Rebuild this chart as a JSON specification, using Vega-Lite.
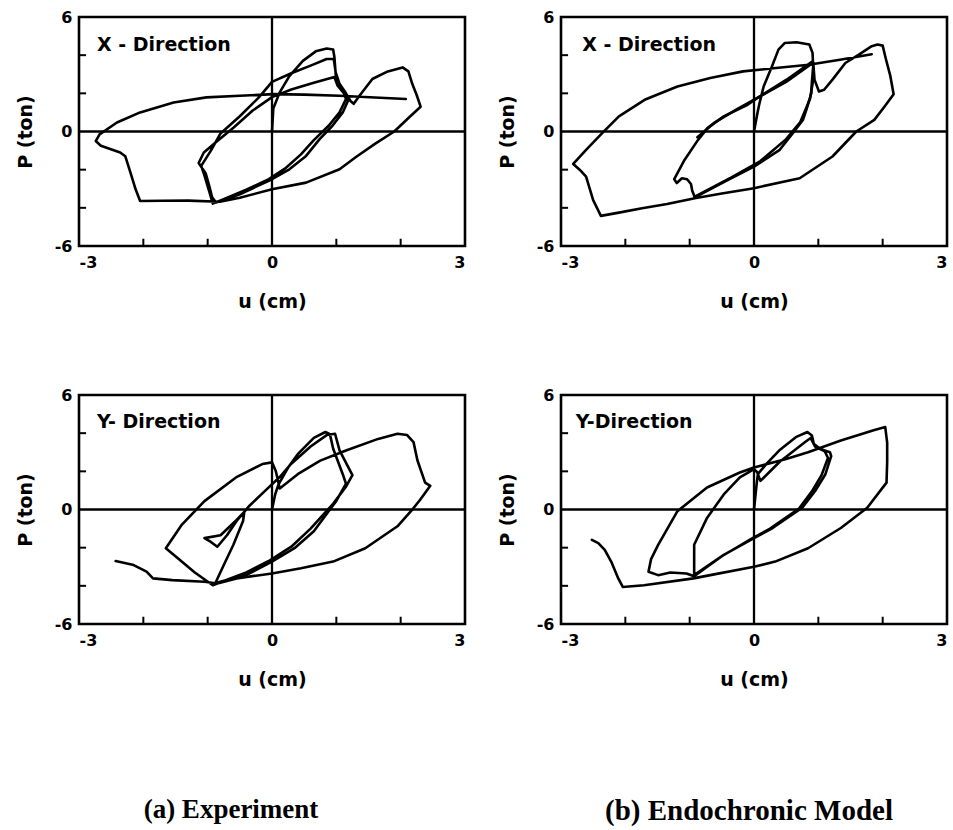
{
"$schema": "https://vega.github.io/schema/vega-lite/v6.json",
"background": "white",
"padding": {"left": 14, "top": 7, "right": 0, "bottom": 0},
"datasets": {"pts": [
{"p":"TL","s":1,"i":1,"u":0,"P":0},
{"p":"TL","s":1,"i":2,"u":0.02,"P":1.2},
{"p":"TL","s":1,"i":3,"u":0.12,"P":2.05},
{"p":"TL","s":1,"i":4,"u":0.27,"P":2.9},
{"p":"TL","s":1,"i":5,"u":0.48,"P":3.7},
{"p":"TL","s":1,"i":6,"u":0.68,"P":4.2},
{"p":"TL","s":1,"i":7,"u":0.85,"P":4.35},
{"p":"TL","s":1,"i":8,"u":0.95,"P":4.3},
{"p":"TL","s":1,"i":9,"u":0.97,"P":3.9},
{"p":"TL","s":1,"i":10,"u":0.99,"P":3.0},
{"p":"TL","s":1,"i":11,"u":1.05,"P":2.35},
{"p":"TL","s":1,"i":12,"u":1.15,"P":1.9},
{"p":"TL","s":1,"i":13,"u":1.18,"P":1.6},
{"p":"TL","s":1,"i":14,"u":1.1,"P":1.0},
{"p":"TL","s":1,"i":15,"u":0.94,"P":0.3},
{"p":"TL","s":1,"i":16,"u":0.74,"P":-0.4},
{"p":"TL","s":1,"i":17,"u":0.53,"P":-1.28},
{"p":"TL","s":1,"i":18,"u":0.27,"P":-1.98},
{"p":"TL","s":1,"i":19,"u":0,"P":-2.5},
{"p":"TL","s":1,"i":20,"u":-0.5,"P":-3.29},
{"p":"TL","s":1,"i":21,"u":-0.87,"P":-3.72},
{"p":"TL","s":1,"i":22,"u":-0.93,"P":-3.45},
{"p":"TL","s":1,"i":23,"u":-0.98,"P":-2.8},
{"p":"TL","s":1,"i":24,"u":-1.03,"P":-2.2},
{"p":"TL","s":1,"i":25,"u":-1.14,"P":-1.65},
{"p":"TL","s":1,"i":26,"u":-1.06,"P":-1.1},
{"p":"TL","s":1,"i":27,"u":-0.85,"P":-0.5},
{"p":"TL","s":1,"i":28,"u":-0.6,"P":0.2},
{"p":"TL","s":1,"i":29,"u":-0.3,"P":1.1},
{"p":"TL","s":1,"i":30,"u":0,"P":1.8},
{"p":"TL","s":1,"i":31,"u":0.3,"P":2.2},
{"p":"TL","s":1,"i":32,"u":0.65,"P":2.55},
{"p":"TL","s":1,"i":33,"u":0.97,"P":2.85},
{"p":"TL","s":1,"i":34,"u":1.02,"P":2.4},
{"p":"TL","s":1,"i":35,"u":1.12,"P":2.0},
{"p":"TL","s":1,"i":36,"u":1.15,"P":1.7},
{"p":"TL","s":1,"i":37,"u":1.05,"P":1.0},
{"p":"TL","s":1,"i":38,"u":0.88,"P":0.3},
{"p":"TL","s":1,"i":39,"u":0.65,"P":-0.45},
{"p":"TL","s":1,"i":40,"u":0.45,"P":-1.2},
{"p":"TL","s":1,"i":41,"u":0.2,"P":-1.95},
{"p":"TL","s":1,"i":42,"u":-0.05,"P":-2.5},
{"p":"TL","s":1,"i":43,"u":-0.4,"P":-3.05},
{"p":"TL","s":1,"i":44,"u":-0.65,"P":-3.4},
{"p":"TL","s":1,"i":45,"u":-0.92,"P":-3.78},
{"p":"TL","s":1,"i":46,"u":-0.97,"P":-3.2},
{"p":"TL","s":1,"i":47,"u":-1.06,"P":-2.2},
{"p":"TL","s":1,"i":48,"u":-1.1,"P":-1.8},
{"p":"TL","s":1,"i":49,"u":-0.95,"P":-1.0},
{"p":"TL","s":1,"i":50,"u":-0.8,"P":-0.1},
{"p":"TL","s":1,"i":51,"u":-0.5,"P":0.8},
{"p":"TL","s":1,"i":52,"u":-0.2,"P":1.8},
{"p":"TL","s":1,"i":53,"u":0,"P":2.6},
{"p":"TL","s":1,"i":54,"u":0.3,"P":3.05},
{"p":"TL","s":1,"i":55,"u":0.6,"P":3.45},
{"p":"TL","s":1,"i":56,"u":0.85,"P":3.8},
{"p":"TL","s":1,"i":57,"u":0.96,"P":3.8},
{"p":"TL","s":1,"i":58,"u":0.99,"P":3.1},
{"p":"TL","s":1,"i":59,"u":1.05,"P":2.5},
{"p":"TL","s":1,"i":60,"u":1.15,"P":2.0},
{"p":"TL","s":1,"i":61,"u":1.22,"P":1.6},
{"p":"TL","s":1,"i":62,"u":1.27,"P":1.45},
{"p":"TL","s":1,"i":63,"u":1.36,"P":1.87},
{"p":"TL","s":1,"i":64,"u":1.56,"P":2.75},
{"p":"TL","s":1,"i":65,"u":1.8,"P":3.15},
{"p":"TL","s":1,"i":66,"u":2.03,"P":3.36},
{"p":"TL","s":1,"i":67,"u":2.12,"P":3.15},
{"p":"TL","s":1,"i":68,"u":2.18,"P":2.5},
{"p":"TL","s":1,"i":69,"u":2.25,"P":1.9},
{"p":"TL","s":1,"i":70,"u":2.31,"P":1.3},
{"p":"TL","s":1,"i":71,"u":2.15,"P":0.8},
{"p":"TL","s":1,"i":72,"u":1.9,"P":0},
{"p":"TL","s":1,"i":73,"u":1.6,"P":-0.65},
{"p":"TL","s":1,"i":74,"u":1.3,"P":-1.35},
{"p":"TL","s":1,"i":75,"u":1.05,"P":-1.98},
{"p":"TL","s":1,"i":76,"u":0.53,"P":-2.68},
{"p":"TL","s":1,"i":77,"u":0,"P":-3.03},
{"p":"TL","s":1,"i":78,"u":-0.5,"P":-3.47},
{"p":"TL","s":1,"i":79,"u":-0.81,"P":-3.68},
{"p":"TL","s":1,"i":80,"u":-1.3,"P":-3.62},
{"p":"TL","s":1,"i":81,"u":-1.7,"P":-3.63},
{"p":"TL","s":1,"i":82,"u":-2.05,"P":-3.64},
{"p":"TL","s":1,"i":83,"u":-2.12,"P":-3.03},
{"p":"TL","s":1,"i":84,"u":-2.2,"P":-2.15},
{"p":"TL","s":1,"i":85,"u":-2.28,"P":-1.3},
{"p":"TL","s":1,"i":86,"u":-2.36,"P":-1.1},
{"p":"TL","s":1,"i":87,"u":-2.66,"P":-0.75},
{"p":"TL","s":1,"i":88,"u":-2.74,"P":-0.5},
{"p":"TL","s":1,"i":89,"u":-2.68,"P":-0.15},
{"p":"TL","s":1,"i":90,"u":-2.41,"P":0.47},
{"p":"TL","s":1,"i":91,"u":-2.05,"P":1.0},
{"p":"TL","s":1,"i":92,"u":-1.53,"P":1.52},
{"p":"TL","s":1,"i":93,"u":-1.02,"P":1.79},
{"p":"TL","s":1,"i":94,"u":-0.5,"P":1.87},
{"p":"TL","s":1,"i":95,"u":0.02,"P":1.96},
{"p":"TL","s":1,"i":96,"u":0.5,"P":1.93},
{"p":"TL","s":1,"i":97,"u":1.05,"P":1.87},
{"p":"TL","s":1,"i":98,"u":1.6,"P":1.78},
{"p":"TL","s":1,"i":99,"u":2.08,"P":1.7},

{"p":"TR","s":1,"i":1,"u":0,"P":0},
{"p":"TR","s":1,"i":2,"u":0.05,"P":0.9},
{"p":"TR","s":1,"i":3,"u":0.08,"P":1.4},
{"p":"TR","s":1,"i":4,"u":0.15,"P":2.36},
{"p":"TR","s":1,"i":5,"u":0.28,"P":3.42},
{"p":"TR","s":1,"i":6,"u":0.38,"P":4.29},
{"p":"TR","s":1,"i":7,"u":0.48,"P":4.64},
{"p":"TR","s":1,"i":8,"u":0.66,"P":4.68},
{"p":"TR","s":1,"i":9,"u":0.86,"P":4.56},
{"p":"TR","s":1,"i":10,"u":0.91,"P":4.12},
{"p":"TR","s":1,"i":11,"u":0.92,"P":3.42},
{"p":"TR","s":1,"i":12,"u":0.9,"P":2.6},
{"p":"TR","s":1,"i":13,"u":0.89,"P":2.0},
{"p":"TR","s":1,"i":14,"u":0.82,"P":1.2},
{"p":"TR","s":1,"i":15,"u":0.76,"P":0.6},
{"p":"TR","s":1,"i":16,"u":0.6,"P":-0.1},
{"p":"TR","s":1,"i":17,"u":0.4,"P":-0.96},
{"p":"TR","s":1,"i":18,"u":0,"P":-1.84},
{"p":"TR","s":1,"i":19,"u":-0.41,"P":-2.54},
{"p":"TR","s":1,"i":20,"u":-0.92,"P":-3.45},
{"p":"TR","s":1,"i":21,"u":-0.96,"P":-3.1},
{"p":"TR","s":1,"i":22,"u":-0.98,"P":-2.75},
{"p":"TR","s":1,"i":23,"u":-1.04,"P":-2.5},
{"p":"TR","s":1,"i":24,"u":-1.12,"P":-2.45},
{"p":"TR","s":1,"i":25,"u":-1.2,"P":-2.7},
{"p":"TR","s":1,"i":26,"u":-1.24,"P":-2.5},
{"p":"TR","s":1,"i":27,"u":-1.08,"P":-1.49},
{"p":"TR","s":1,"i":28,"u":-0.87,"P":-0.44},
{"p":"TR","s":1,"i":29,"u":-0.72,"P":0.19},
{"p":"TR","s":1,"i":30,"u":-0.47,"P":0.79},
{"p":"TR","s":1,"i":31,"u":-0.1,"P":1.4},
{"p":"TR","s":1,"i":32,"u":0.05,"P":1.75},
{"p":"TR","s":1,"i":33,"u":0.5,"P":2.7},
{"p":"TR","s":1,"i":34,"u":0.91,"P":3.68},
{"p":"TR","s":1,"i":35,"u":0.93,"P":3.2},
{"p":"TR","s":1,"i":36,"u":0.94,"P":2.72},
{"p":"TR","s":1,"i":37,"u":1.01,"P":2.1},
{"p":"TR","s":1,"i":38,"u":1.09,"P":2.19},
{"p":"TR","s":1,"i":39,"u":1.22,"P":2.72},
{"p":"TR","s":1,"i":40,"u":1.42,"P":3.59},
{"p":"TR","s":1,"i":41,"u":1.63,"P":4.03},
{"p":"TR","s":1,"i":42,"u":1.83,"P":4.47},
{"p":"TR","s":1,"i":43,"u":1.92,"P":4.56},
{"p":"TR","s":1,"i":44,"u":2.0,"P":4.5},
{"p":"TR","s":1,"i":45,"u":2.05,"P":3.8},
{"p":"TR","s":1,"i":46,"u":2.12,"P":2.9},
{"p":"TR","s":1,"i":47,"u":2.17,"P":1.95},
{"p":"TR","s":1,"i":48,"u":2.03,"P":1.31},
{"p":"TR","s":1,"i":49,"u":1.87,"P":0.61},
{"p":"TR","s":1,"i":50,"u":1.59,"P":0},
{"p":"TR","s":1,"i":51,"u":1.22,"P":-1.31},
{"p":"TR","s":1,"i":52,"u":0.71,"P":-2.45},
{"p":"TR","s":1,"i":53,"u":0,"P":-2.97},
{"p":"TR","s":1,"i":54,"u":-0.5,"P":-3.25},
{"p":"TR","s":1,"i":55,"u":-0.92,"P":-3.5},
{"p":"TR","s":1,"i":56,"u":-1.35,"P":-3.8},
{"p":"TR","s":1,"i":57,"u":-1.74,"P":-4.02},
{"p":"TR","s":1,"i":58,"u":-2.1,"P":-4.25},
{"p":"TR","s":1,"i":59,"u":-2.38,"P":-4.42},
{"p":"TR","s":1,"i":60,"u":-2.5,"P":-3.6},
{"p":"TR","s":1,"i":61,"u":-2.61,"P":-2.36},
{"p":"TR","s":1,"i":62,"u":-2.71,"P":-2.0},
{"p":"TR","s":1,"i":63,"u":-2.81,"P":-1.7},
{"p":"TR","s":1,"i":64,"u":-2.61,"P":-0.96},
{"p":"TR","s":1,"i":65,"u":-2.36,"P":-0.09},
{"p":"TR","s":1,"i":66,"u":-2.1,"P":0.79},
{"p":"TR","s":1,"i":67,"u":-1.7,"P":1.66},
{"p":"TR","s":1,"i":68,"u":-1.19,"P":2.36},
{"p":"TR","s":1,"i":69,"u":-0.68,"P":2.8},
{"p":"TR","s":1,"i":70,"u":-0.17,"P":3.15},
{"p":"TR","s":1,"i":71,"u":0.34,"P":3.33},
{"p":"TR","s":1,"i":72,"u":0.85,"P":3.5},
{"p":"TR","s":1,"i":73,"u":1.36,"P":3.77},
{"p":"TR","s":1,"i":74,"u":1.83,"P":4.05},
{"p":"TR","s":2,"i":1,"u":-0.88,"P":-0.3},
{"p":"TR","s":2,"i":2,"u":-0.62,"P":0.45},
{"p":"TR","s":2,"i":3,"u":-0.25,"P":1.2},
{"p":"TR","s":2,"i":4,"u":0.1,"P":1.85},
{"p":"TR","s":2,"i":5,"u":0.5,"P":2.6},
{"p":"TR","s":2,"i":6,"u":0.92,"P":3.6},
{"p":"TR","s":2,"i":7,"u":0.93,"P":2.9},
{"p":"TR","s":2,"i":8,"u":0.87,"P":1.7},
{"p":"TR","s":2,"i":9,"u":0.72,"P":0.5},
{"p":"TR","s":2,"i":10,"u":0.5,"P":-0.4},
{"p":"TR","s":2,"i":11,"u":0.1,"P":-1.55},
{"p":"TR","s":2,"i":12,"u":-0.35,"P":-2.4},
{"p":"TR","s":2,"i":13,"u":-0.92,"P":-3.42},

{"p":"BL","s":1,"i":1,"u":0,"P":0},
{"p":"BL","s":1,"i":2,"u":0.05,"P":0.8},
{"p":"BL","s":1,"i":3,"u":0.1,"P":1.3},
{"p":"BL","s":1,"i":4,"u":0.25,"P":2.2},
{"p":"BL","s":1,"i":5,"u":0.4,"P":2.9},
{"p":"BL","s":1,"i":6,"u":0.65,"P":3.75},
{"p":"BL","s":1,"i":7,"u":0.83,"P":4.06},
{"p":"BL","s":1,"i":8,"u":0.9,"P":3.95},
{"p":"BL","s":1,"i":9,"u":0.95,"P":3.2},
{"p":"BL","s":1,"i":10,"u":1.1,"P":1.85},
{"p":"BL","s":1,"i":11,"u":1.15,"P":1.35},
{"p":"BL","s":1,"i":12,"u":1.0,"P":0.45},
{"p":"BL","s":1,"i":13,"u":0.65,"P":-1.14},
{"p":"BL","s":1,"i":14,"u":0.35,"P":-2.03},
{"p":"BL","s":1,"i":15,"u":0,"P":-2.73},
{"p":"BL","s":1,"i":16,"u":-0.35,"P":-3.35},
{"p":"BL","s":1,"i":17,"u":-0.7,"P":-3.7},
{"p":"BL","s":1,"i":18,"u":-0.88,"P":-3.85},
{"p":"BL","s":1,"i":19,"u":-0.72,"P":-2.7},
{"p":"BL","s":1,"i":20,"u":-0.6,"P":-1.85},
{"p":"BL","s":1,"i":21,"u":-0.45,"P":-0.6},
{"p":"BL","s":1,"i":22,"u":-0.43,"P":-0.12},
{"p":"BL","s":1,"i":23,"u":-0.55,"P":-0.55},
{"p":"BL","s":1,"i":24,"u":-0.8,"P":-1.35},
{"p":"BL","s":1,"i":25,"u":-1.05,"P":-1.5},
{"p":"BL","s":1,"i":26,"u":-0.95,"P":-1.7},
{"p":"BL","s":1,"i":27,"u":-0.85,"P":-1.95},
{"p":"BL","s":1,"i":28,"u":-0.7,"P":-1.35},
{"p":"BL","s":1,"i":29,"u":-0.55,"P":-0.6},
{"p":"BL","s":1,"i":30,"u":-0.35,"P":0.2},
{"p":"BL","s":1,"i":31,"u":-0.1,"P":1.0},
{"p":"BL","s":1,"i":32,"u":0.12,"P":1.7},
{"p":"BL","s":1,"i":33,"u":0.3,"P":2.4},
{"p":"BL","s":1,"i":34,"u":0.6,"P":3.3},
{"p":"BL","s":1,"i":35,"u":0.85,"P":3.9},
{"p":"BL","s":1,"i":36,"u":0.98,"P":3.97},
{"p":"BL","s":1,"i":37,"u":1.05,"P":3.1},
{"p":"BL","s":1,"i":38,"u":1.25,"P":1.8},
{"p":"BL","s":1,"i":39,"u":1.15,"P":1.2},
{"p":"BL","s":1,"i":40,"u":0.95,"P":0.3},
{"p":"BL","s":1,"i":41,"u":0.6,"P":-1.0},
{"p":"BL","s":1,"i":42,"u":0.3,"P":-1.95},
{"p":"BL","s":1,"i":43,"u":-0.05,"P":-2.7},
{"p":"BL","s":1,"i":44,"u":-0.4,"P":-3.3},
{"p":"BL","s":1,"i":45,"u":-0.75,"P":-3.75},
{"p":"BL","s":1,"i":46,"u":-0.92,"P":-3.97},
{"p":"BL","s":1,"i":47,"u":-1.2,"P":-3.3},
{"p":"BL","s":1,"i":48,"u":-1.45,"P":-2.6},
{"p":"BL","s":1,"i":49,"u":-1.65,"P":-2.03},
{"p":"BL","s":1,"i":50,"u":-1.4,"P":-0.79},
{"p":"BL","s":1,"i":51,"u":-1.05,"P":0.44},
{"p":"BL","s":1,"i":52,"u":-0.56,"P":1.68},
{"p":"BL","s":1,"i":53,"u":-0.15,"P":2.38},
{"p":"BL","s":1,"i":54,"u":0,"P":2.47},
{"p":"BL","s":1,"i":55,"u":0.06,"P":2.0},
{"p":"BL","s":1,"i":56,"u":0.12,"P":1.1},
{"p":"BL","s":1,"i":57,"u":0.4,"P":1.85},
{"p":"BL","s":1,"i":58,"u":0.75,"P":2.56},
{"p":"BL","s":1,"i":59,"u":1.15,"P":3.09},
{"p":"BL","s":1,"i":60,"u":1.65,"P":3.7},
{"p":"BL","s":1,"i":61,"u":1.95,"P":3.97},
{"p":"BL","s":1,"i":62,"u":2.1,"P":3.9},
{"p":"BL","s":1,"i":63,"u":2.2,"P":3.53},
{"p":"BL","s":1,"i":64,"u":2.26,"P":2.58},
{"p":"BL","s":1,"i":65,"u":2.38,"P":1.41},
{"p":"BL","s":1,"i":66,"u":2.46,"P":1.24},
{"p":"BL","s":1,"i":67,"u":2.3,"P":0.5},
{"p":"BL","s":1,"i":68,"u":2.16,"P":-0.09},
{"p":"BL","s":1,"i":69,"u":1.95,"P":-0.88},
{"p":"BL","s":1,"i":70,"u":1.45,"P":-2.03},
{"p":"BL","s":1,"i":71,"u":0.95,"P":-2.73},
{"p":"BL","s":1,"i":72,"u":0.45,"P":-3.08},
{"p":"BL","s":1,"i":73,"u":0,"P":-3.35},
{"p":"BL","s":1,"i":74,"u":-0.55,"P":-3.61},
{"p":"BL","s":1,"i":75,"u":-0.85,"P":-3.88},
{"p":"BL","s":1,"i":76,"u":-1.05,"P":-3.79},
{"p":"BL","s":1,"i":77,"u":-1.55,"P":-3.7},
{"p":"BL","s":1,"i":78,"u":-1.85,"P":-3.61},
{"p":"BL","s":1,"i":79,"u":-1.95,"P":-3.26},
{"p":"BL","s":1,"i":80,"u":-2.15,"P":-2.91},
{"p":"BL","s":1,"i":81,"u":-2.43,"P":-2.7},

{"p":"BR","s":1,"i":1,"u":0,"P":0},
{"p":"BR","s":1,"i":2,"u":0.04,"P":1.3},
{"p":"BR","s":1,"i":3,"u":0.06,"P":1.85},
{"p":"BR","s":1,"i":4,"u":0.19,"P":2.38},
{"p":"BR","s":1,"i":5,"u":0.39,"P":3.09},
{"p":"BR","s":1,"i":6,"u":0.65,"P":3.79},
{"p":"BR","s":1,"i":7,"u":0.83,"P":4.06},
{"p":"BR","s":1,"i":8,"u":0.9,"P":3.88},
{"p":"BR","s":1,"i":9,"u":0.93,"P":3.44},
{"p":"BR","s":1,"i":10,"u":1.03,"P":3.17},
{"p":"BR","s":1,"i":11,"u":1.18,"P":3.0},
{"p":"BR","s":1,"i":12,"u":1.2,"P":2.8},
{"p":"BR","s":1,"i":13,"u":1.11,"P":1.85},
{"p":"BR","s":1,"i":14,"u":0.95,"P":0.97},
{"p":"BR","s":1,"i":15,"u":0.75,"P":0.09},
{"p":"BR","s":1,"i":16,"u":0.29,"P":-0.97},
{"p":"BR","s":1,"i":17,"u":0,"P":-1.5},
{"p":"BR","s":1,"i":18,"u":-0.47,"P":-2.38},
{"p":"BR","s":1,"i":19,"u":-0.93,"P":-3.44},
{"p":"BR","s":1,"i":20,"u":-0.93,"P":-1.85},
{"p":"BR","s":1,"i":21,"u":-0.73,"P":-0.44},
{"p":"BR","s":1,"i":22,"u":-0.47,"P":0.79},
{"p":"BR","s":1,"i":23,"u":-0.22,"P":1.68},
{"p":"BR","s":1,"i":24,"u":0,"P":2.12},
{"p":"BR","s":1,"i":25,"u":0.05,"P":1.95},
{"p":"BR","s":1,"i":26,"u":0.1,"P":1.5},
{"p":"BR","s":1,"i":27,"u":0.4,"P":2.5},
{"p":"BR","s":1,"i":28,"u":0.8,"P":3.55},
{"p":"BR","s":1,"i":29,"u":0.88,"P":3.75},
{"p":"BR","s":1,"i":30,"u":0.95,"P":3.3},
{"p":"BR","s":1,"i":31,"u":1.1,"P":3.05},
{"p":"BR","s":1,"i":32,"u":1.15,"P":2.7},
{"p":"BR","s":1,"i":33,"u":1.05,"P":1.8},
{"p":"BR","s":1,"i":34,"u":0.9,"P":0.95},
{"p":"BR","s":1,"i":35,"u":0.7,"P":0.05},
{"p":"BR","s":1,"i":36,"u":0.25,"P":-1.0},
{"p":"BR","s":1,"i":37,"u":-0.05,"P":-1.55},
{"p":"BR","s":1,"i":38,"u":-0.5,"P":-2.45},
{"p":"BR","s":1,"i":39,"u":-0.93,"P":-3.5},
{"p":"BR","s":1,"i":40,"u":-1.05,"P":-3.35},
{"p":"BR","s":1,"i":41,"u":-1.3,"P":-3.3},
{"p":"BR","s":1,"i":42,"u":-1.49,"P":-3.44},
{"p":"BR","s":1,"i":43,"u":-1.64,"P":-3.26},
{"p":"BR","s":1,"i":44,"u":-1.6,"P":-2.6},
{"p":"BR","s":1,"i":45,"u":-1.49,"P":-1.85},
{"p":"BR","s":1,"i":46,"u":-1.19,"P":-0.09},
{"p":"BR","s":1,"i":47,"u":-0.73,"P":1.15},
{"p":"BR","s":1,"i":48,"u":-0.22,"P":1.94},
{"p":"BR","s":1,"i":49,"u":0,"P":2.2},
{"p":"BR","s":1,"i":50,"u":0.5,"P":2.65},
{"p":"BR","s":1,"i":51,"u":0.84,"P":3.0},
{"p":"BR","s":1,"i":52,"u":1.35,"P":3.62},
{"p":"BR","s":1,"i":53,"u":1.86,"P":4.15},
{"p":"BR","s":1,"i":54,"u":2.04,"P":4.32},
{"p":"BR","s":1,"i":55,"u":2.07,"P":3.5},
{"p":"BR","s":1,"i":56,"u":2.07,"P":2.5},
{"p":"BR","s":1,"i":57,"u":2.06,"P":1.41},
{"p":"BR","s":1,"i":58,"u":1.76,"P":0.09},
{"p":"BR","s":1,"i":59,"u":1.35,"P":-0.97},
{"p":"BR","s":1,"i":60,"u":0.84,"P":-2.03},
{"p":"BR","s":1,"i":61,"u":0.33,"P":-2.73},
{"p":"BR","s":1,"i":62,"u":0,"P":-3.0},
{"p":"BR","s":1,"i":63,"u":-0.68,"P":-3.44},
{"p":"BR","s":1,"i":64,"u":-0.94,"P":-3.61},
{"p":"BR","s":1,"i":65,"u":-1.71,"P":-3.97},
{"p":"BR","s":1,"i":66,"u":-2.04,"P":-4.06},
{"p":"BR","s":1,"i":67,"u":-2.11,"P":-3.61},
{"p":"BR","s":1,"i":68,"u":-2.22,"P":-2.73},
{"p":"BR","s":1,"i":69,"u":-2.32,"P":-2.12},
{"p":"BR","s":1,"i":70,"u":-2.42,"P":-1.76},
{"p":"BR","s":1,"i":71,"u":-2.52,"P":-1.59}
],
"xticks": [{"u": -2}, {"u": -1}, {"u": 1}, {"u": 2}],
"yticks": [{"P": -4}, {"P": -2}, {"P": 2}, {"P": 4}]
},
"data": {"name": "pts"},
"columns": 2,
"spacing": {"row": 149, "column": 96},
"bounds": "flush",
"concat": [
{
 "width": 386, "height": 229,
 "layer": [
  {"data": {"values": [{}]}, "mark": {"type": "rule", "color": "black", "strokeWidth": 2.3}, "encoding": {"x": {"datum": 0, "type": "quantitative"}}},
  {"data": {"values": [{}]}, "mark": {"type": "rule", "color": "black", "strokeWidth": 2.3}, "encoding": {"y": {"datum": 0, "type": "quantitative"}}},
  {"data": {"name": "xticks"}, "mark": {"type": "rule", "color": "black", "strokeWidth": 2}, "encoding": {"x": {"field": "u", "type": "quantitative"}, "y": {"datum": -6, "type": "quantitative"}, "y2": {"datum": -5.62}}},
  {"data": {"name": "yticks"}, "mark": {"type": "rule", "color": "black", "strokeWidth": 2}, "encoding": {"y": {"field": "P", "type": "quantitative"}, "x": {"datum": -3, "type": "quantitative"}, "x2": {"datum": -2.89}}},
  {"transform": [{"filter": "datum.p == 'TL'"}],
   "mark": {"type": "line", "color": "black", "strokeWidth": 2.6, "strokeJoin": "round", "strokeCap": "round"},
   "encoding": {
    "x": {"field": "u", "type": "quantitative", "scale": {"domain": [-3, 3], "nice": false, "zero": false}, "axis": {"title": "u (cm)", "values": [-3, 0, 3], "labelExpr": "'' + datum.value"}},
    "y": {"field": "P", "type": "quantitative", "scale": {"domain": [-6, 6], "nice": false, "zero": false}, "axis": {"title": "P (ton)", "values": [-6, 0, 6], "labelExpr": "'' + datum.value"}},
    "detail": {"field": "s"},
    "order": {"field": "i", "type": "quantitative"}
   }},
  {"data": {"values": [{}]}, "mark": {"type": "text", "align": "left", "baseline": "middle", "font": "DejaVu Sans", "fontSize": 19, "fontWeight": "bold", "color": "black"},
   "encoding": {"x": {"datum": -2.72, "type": "quantitative"}, "y": {"datum": 4.55, "type": "quantitative"}, "text": {"value": "X - Direction"}}}
 ]
},
{
 "width": 386, "height": 229,
 "layer": [
  {"data": {"values": [{}]}, "mark": {"type": "rule", "color": "black", "strokeWidth": 2.3}, "encoding": {"x": {"datum": 0, "type": "quantitative"}}},
  {"data": {"values": [{}]}, "mark": {"type": "rule", "color": "black", "strokeWidth": 2.3}, "encoding": {"y": {"datum": 0, "type": "quantitative"}}},
  {"data": {"name": "xticks"}, "mark": {"type": "rule", "color": "black", "strokeWidth": 2}, "encoding": {"x": {"field": "u", "type": "quantitative"}, "y": {"datum": -6, "type": "quantitative"}, "y2": {"datum": -5.62}}},
  {"data": {"name": "yticks"}, "mark": {"type": "rule", "color": "black", "strokeWidth": 2}, "encoding": {"y": {"field": "P", "type": "quantitative"}, "x": {"datum": -3, "type": "quantitative"}, "x2": {"datum": -2.89}}},
  {"transform": [{"filter": "datum.p == 'TR'"}],
   "mark": {"type": "line", "color": "black", "strokeWidth": 2.6, "strokeJoin": "round", "strokeCap": "round"},
   "encoding": {
    "x": {"field": "u", "type": "quantitative", "scale": {"domain": [-3, 3], "nice": false, "zero": false}, "axis": {"title": "u (cm)", "values": [-3, 0, 3], "labelExpr": "'' + datum.value"}},
    "y": {"field": "P", "type": "quantitative", "scale": {"domain": [-6, 6], "nice": false, "zero": false}, "axis": {"title": "P (ton)", "values": [-6, 0, 6], "labelExpr": "'' + datum.value"}},
    "detail": {"field": "s"},
    "order": {"field": "i", "type": "quantitative"}
   }},
  {"data": {"values": [{}]}, "mark": {"type": "text", "align": "left", "baseline": "middle", "font": "DejaVu Sans", "fontSize": 19, "fontWeight": "bold", "color": "black"},
   "encoding": {"x": {"datum": -2.67, "type": "quantitative"}, "y": {"datum": 4.55, "type": "quantitative"}, "text": {"value": "X - Direction"}}}
 ]
},
{
 "width": 386, "height": 229,
 "title": {"text": "(a) Experiment", "orient": "bottom", "offset": 108, "dx": -41, "anchor": "middle", "font": "Liberation Serif", "fontSize": 27, "fontWeight": "bold", "color": "black"},
 "layer": [
  {"data": {"values": [{}]}, "mark": {"type": "rule", "color": "black", "strokeWidth": 2.3}, "encoding": {"x": {"datum": 0, "type": "quantitative"}}},
  {"data": {"values": [{}]}, "mark": {"type": "rule", "color": "black", "strokeWidth": 2.3}, "encoding": {"y": {"datum": 0, "type": "quantitative"}}},
  {"data": {"name": "xticks"}, "mark": {"type": "rule", "color": "black", "strokeWidth": 2}, "encoding": {"x": {"field": "u", "type": "quantitative"}, "y": {"datum": -6, "type": "quantitative"}, "y2": {"datum": -5.62}}},
  {"data": {"name": "yticks"}, "mark": {"type": "rule", "color": "black", "strokeWidth": 2}, "encoding": {"y": {"field": "P", "type": "quantitative"}, "x": {"datum": -3, "type": "quantitative"}, "x2": {"datum": -2.89}}},
  {"transform": [{"filter": "datum.p == 'BL'"}],
   "mark": {"type": "line", "color": "black", "strokeWidth": 2.6, "strokeJoin": "round", "strokeCap": "round"},
   "encoding": {
    "x": {"field": "u", "type": "quantitative", "scale": {"domain": [-3, 3], "nice": false, "zero": false}, "axis": {"title": "u (cm)", "values": [-3, 0, 3], "labelExpr": "'' + datum.value"}},
    "y": {"field": "P", "type": "quantitative", "scale": {"domain": [-6, 6], "nice": false, "zero": false}, "axis": {"title": "P (ton)", "values": [-6, 0, 6], "labelExpr": "'' + datum.value"}},
    "detail": {"field": "s"},
    "order": {"field": "i", "type": "quantitative"}
   }},
  {"data": {"values": [{}]}, "mark": {"type": "text", "align": "left", "baseline": "middle", "font": "DejaVu Sans", "fontSize": 19, "fontWeight": "bold", "color": "black"},
   "encoding": {"x": {"datum": -2.72, "type": "quantitative"}, "y": {"datum": 4.6, "type": "quantitative"}, "text": {"value": "Y- Direction"}}}
 ]
},
{
 "width": 386, "height": 229,
 "title": {"text": "(b) Endochronic Model", "orient": "bottom", "offset": 108, "dx": -5, "anchor": "middle", "font": "Liberation Serif", "fontSize": 29, "fontWeight": "bold", "color": "black"},
 "layer": [
  {"data": {"values": [{}]}, "mark": {"type": "rule", "color": "black", "strokeWidth": 2.3}, "encoding": {"x": {"datum": 0, "type": "quantitative"}}},
  {"data": {"values": [{}]}, "mark": {"type": "rule", "color": "black", "strokeWidth": 2.3}, "encoding": {"y": {"datum": 0, "type": "quantitative"}}},
  {"data": {"name": "xticks"}, "mark": {"type": "rule", "color": "black", "strokeWidth": 2}, "encoding": {"x": {"field": "u", "type": "quantitative"}, "y": {"datum": -6, "type": "quantitative"}, "y2": {"datum": -5.62}}},
  {"data": {"name": "yticks"}, "mark": {"type": "rule", "color": "black", "strokeWidth": 2}, "encoding": {"y": {"field": "P", "type": "quantitative"}, "x": {"datum": -3, "type": "quantitative"}, "x2": {"datum": -2.89}}},
  {"transform": [{"filter": "datum.p == 'BR'"}],
   "mark": {"type": "line", "color": "black", "strokeWidth": 2.6, "strokeJoin": "round", "strokeCap": "round"},
   "encoding": {
    "x": {"field": "u", "type": "quantitative", "scale": {"domain": [-3, 3], "nice": false, "zero": false}, "axis": {"title": "u (cm)", "values": [-3, 0, 3], "labelExpr": "'' + datum.value"}},
    "y": {"field": "P", "type": "quantitative", "scale": {"domain": [-6, 6], "nice": false, "zero": false}, "axis": {"title": "P (ton)", "values": [-6, 0, 6], "labelExpr": "'' + datum.value"}},
    "detail": {"field": "s"},
    "order": {"field": "i", "type": "quantitative"}
   }},
  {"data": {"values": [{}]}, "mark": {"type": "text", "align": "left", "baseline": "middle", "font": "DejaVu Sans", "fontSize": 19, "fontWeight": "bold", "color": "black"},
   "encoding": {"x": {"datum": -2.77, "type": "quantitative"}, "y": {"datum": 4.6, "type": "quantitative"}, "text": {"value": "Y-Direction"}}}
 ]
}
],
"config": {
 "view": {"stroke": "black", "strokeWidth": 2.6},
 "axis": {"domain": false, "grid": false, "ticks": false, "labelColor": "black", "labelFont": "DejaVu Sans", "labelFontWeight": "bold", "labelFontSize": 16, "titleColor": "black", "titleFont": "DejaVu Sans", "titleFontSize": 19, "titleFontWeight": "bold"},
 "axisX": {"labelPadding": 8, "titlePadding": 22},
 "axisY": {"labelPadding": 7, "titlePadding": 19}
}
}
